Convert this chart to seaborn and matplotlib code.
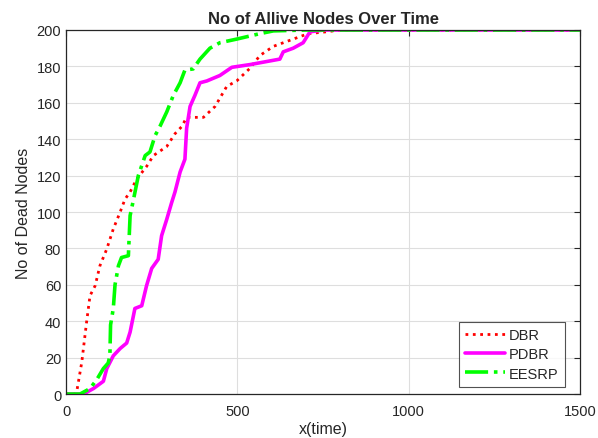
import matplotlib
matplotlib.use("Agg")
import matplotlib.pyplot as plt
import seaborn as sns
import pandas as pd

dbr_x = [0, 26, 31, 46, 60, 70, 85, 99, 119, 138, 158, 172, 187, 206, 235, 255, 294, 318, 338, 352, 401, 435, 469, 498, 537, 566, 605, 663, 707, 760, 800, 1500]
dbr_y = [0, 0, 1, 17.5, 39.5, 54, 59.5, 70.5, 79.7, 90.7, 100, 107, 111, 118, 125, 131, 136, 143, 147, 152, 152, 158, 169, 172, 179, 186, 191, 195, 198, 199, 200, 200]

pdbr_x = [0, 51, 80, 109, 119, 138, 158, 177, 187, 201, 221, 235, 250, 269, 279, 294, 308, 318, 333, 347, 352, 362, 376, 391, 411, 449, 484, 537, 595, 624, 634, 663, 692, 712, 751, 1500]
pdbr_y = [0, 0, 3, 7, 14, 21, 25, 28, 34, 47, 48.5, 59.5, 69, 74, 87, 96, 105, 111, 122, 129, 146, 158, 164, 171, 172, 175, 179.5, 181, 183, 184, 188, 190, 193, 199, 200, 200]

eesrp_x = [0, 41, 70, 90, 109, 123, 128, 130, 138, 143, 153, 162, 182, 187, 196, 211, 231, 245, 260, 274, 294, 313, 333, 347, 371, 391, 420, 449, 498, 566, 605, 700, 1500]
eesrp_y = [0, 0, 3, 8, 14, 17, 21, 38, 47, 60, 70.5, 75, 76, 98, 106, 120, 131, 133, 142, 147, 155, 164, 171, 178, 178.6, 184, 190, 193, 195, 198, 199.5, 200, 200]

labels = ["DBR", "PDBR", "EESRP"]
x_ticks = [0, 500, 1000, 1500]
y_ticks = list(range(0, 201, 20))

sns.set_style("white")
plt.rcParams['font.family'] = ['Liberation Sans', 'DejaVu Sans']

fig = plt.figure(figsize=(5.98, 4.39), dpi=100)
ax = fig.add_axes([0.1104, 0.1002, 0.8595, 0.8292])

styles = [
    (dbr_x, dbr_y, labels[0], (1, 0, 0), ":", 2.0),
    (pdbr_x, pdbr_y, labels[1], (1, 0, 1), "-", 2.6),
    (eesrp_x, eesrp_y, labels[2], (0, 1, 0), "-.", 2.6),
]
for xs, ys, lab, col, ls, lw in styles:
    df = pd.DataFrame({"x": xs, "y": ys})
    sns.lineplot(data=df, x="x", y="y", ax=ax, color=col, linestyle=ls,
                 linewidth=lw, label=lab, sort=False, estimator=None)

ax.set_xlim(0, 1500)
ax.set_ylim(0, 200)
ax.set_xticks(x_ticks)
ax.set_yticks(y_ticks)
ax.grid(True, color="#dedede", linewidth=0.8)
ax.tick_params(direction="in", top=True, right=True, length=4, labelsize=10.5,
               colors="#262626", width=0.8)
ax.tick_params(axis="x", pad=7)
for s in ax.spines.values():
    s.set_color("#262626")
    s.set_linewidth(0.9)
ax.set_xlabel("x(time)", fontsize=11.5, color="#262626", labelpad=2)
ax.set_ylabel("No of Dead Nodes", fontsize=11.5, color="#262626")
ax.set_title("No of Allive Nodes Over Time", fontsize=12, fontweight="bold", pad=5)

leg = ax.legend(loc="lower right", bbox_to_anchor=(0.971, 0.019), borderaxespad=0,
                fontsize=10.5, frameon=True, fancybox=False, edgecolor="#262626",
                handlelength=2.7, borderpad=0.45, labelspacing=0.35, handletextpad=0.3)
leg.get_frame().set_linewidth(0.8)

fig.savefig("out.png", dpi=100, facecolor="white")
